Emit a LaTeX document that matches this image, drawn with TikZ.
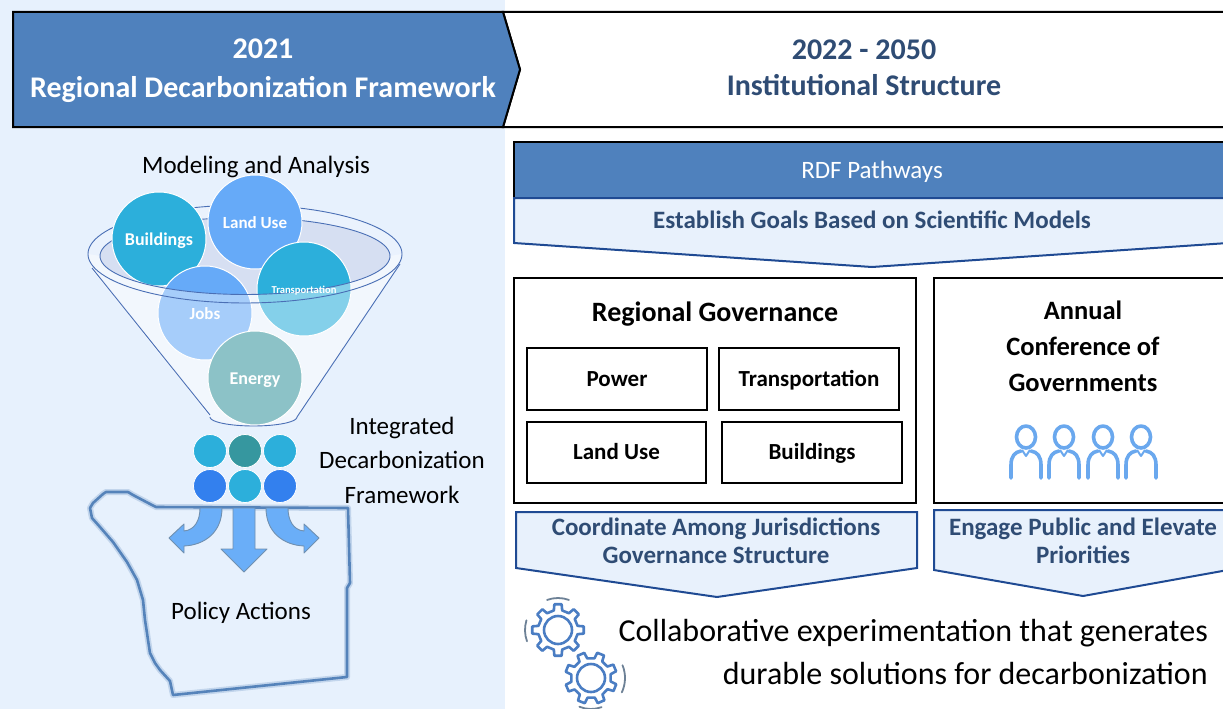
\documentclass[tikz,border=0pt]{standalone}
\usepackage{fontspec}
\setmainfont{Carlito}
\usetikzlibrary{calc}
\definecolor{leftbg}{HTML}{E7F1FD}
\definecolor{hdrblue}{HTML}{4F81BD}
\definecolor{navytext}{HTML}{2F4C74}
\definecolor{chevline}{HTML}{1F4A93}
\definecolor{palefill}{HTML}{E8F1FC}
\definecolor{funnelline}{HTML}{4A6FB5}
\definecolor{funnelback}{HTML}{EAF2FD}
\definecolor{rimfill}{HTML}{D6DFF2}
\definecolor{cyanC}{HTML}{2CAFDB}
\definecolor{lblueC}{HTML}{66AAF8}
\definecolor{tealC}{HTML}{3A979F}
\definecolor{dotteal}{HTML}{36979F}
\definecolor{dotblue}{HTML}{3380EE}
\definecolor{mapline}{HTML}{5583BA}
\definecolor{arrowfill}{HTML}{6AAEF8}
\definecolor{arrowedge}{HTML}{7090B0}
\definecolor{personblue}{HTML}{6AA8EE}
\definecolor{gearblue}{HTML}{4A7DC3}
\definecolor{arcgray}{HTML}{6D8196}
\newcommand\fsz[1]{\fontsize{#1}{#1}\selectfont}
\begin{document}
\begin{tikzpicture}[x=1pt,y=-1pt,
  lbl/.style={inner sep=0pt, anchor=mid},
  frame/.style={draw=black, line width=2pt},
  innerbox/.style={draw=black, line width=2.2pt, fill=white},
  chev/.style={draw=chevline, line width=2pt, fill=palefill},
  bigball/.style={draw=white, line width=1pt},
  dot/.style={draw=white, line width=0.8pt},
  balltxt/.style={lbl, text=white, font=\fsz{18}\bfseries},
  hdrtxt/.style={lbl, font=\fsz{30}\bfseries},
  navybold/.style={lbl, text=navytext, font=\fsz{25}\bfseries},
  boxtxt/.style={lbl, font=\fsz{23}\bfseries},
  conftxt/.style={lbl, font=\fsz{26.5}\bfseries},
  sidetxt/.style={lbl, font=\fsz{25}},
  bottomtxt/.style={inner sep=0pt, anchor=mid east, font=\fsz{32}},
  fline/.style={draw=funnelline, line width=0.9pt},
  maparrow/.style={fill=arrowfill, draw=arrowedge, line width=0.9pt, line join=round},
  person/.style={draw=personblue, line width=3.6pt, line cap=round, line join=round},
  gearline/.style={draw=gearblue, line width=2.6pt, line join=round},
  motion/.style={draw=arcgray, line width=1.8pt, line cap=round}]
\useasboundingbox (0,0) rectangle (1223,709);

% page backgrounds
\fill[white] (0,0) rectangle (1223,709);
\fill[leftbg] (0,0) rectangle (505,709);

% ---------- header chevrons ----------
\draw[frame, fill=white] (503,12) -- (1228,12) -- (1228,127) -- (503,127) -- (520,69.5) -- cycle;
\draw[frame, fill=hdrblue] (13,12) -- (503,12) -- (520,69.5) -- (503,127) -- (13,127) -- cycle;
\node[hdrtxt, text=white] (yr1) at (263,56) {2021};
\node[hdrtxt, text=white] (rdf) at (263,95.5) {Regional Decarbonization Framework};
\node[hdrtxt, text=navytext] (yr2) at (864,57) {2022 - 2050};
\node[hdrtxt, text=navytext] (inst) at (864,93) {Institutional Structure};

% ---------- RDF pathways band ----------
\draw[draw=black, line width=1.6pt, fill=hdrblue] (514,142) rectangle (1228,198);
\node[lbl, text=white, font=\fsz{25}] (path) at (872,176) {RDF Pathways};
\draw[chev] (514,198) -- (1228,198) -- (1228,243) -- (872,267) -- (514,243) -- cycle;
\node[navybold] (goals) at (872,226) {Establish Goals Based on Scientific Models};

% ---------- regional governance ----------
\draw[frame, fill=white] (514,278) rectangle (916,503);
\node[lbl, font=\fsz{28}\bfseries] (gov) at (715,319) {Regional Governance};
\draw[innerbox] (527,348) rectangle (707,410);
\draw[innerbox] (719,348) rectangle (899,410);
\draw[innerbox] (527,422) rectangle (706,483);
\draw[innerbox] (722,422) rectangle (902,483);
\node[boxtxt] (power) at (617,384.5) {Power};
\node[boxtxt] (trans) at (809,384.5) {Transportation};
\node[boxtxt] (land) at (616.5,457.5) {Land Use};
\node[boxtxt] (bldg) at (812,457.5) {Buildings};

\draw[chev] (516,512) -- (917,512) -- (917,568) -- (717,597) -- (516,568) -- cycle;
\node[navybold] (coord) at (716,533) {Coordinate Among Jurisdictions};
\node[navybold] (struct) at (716,561) {Governance Structure};

% ---------- annual conference ----------
\draw[frame, fill=white] (934,278) rectangle (1228,503);
\node[conftxt] (ann1) at (1083,317.5) {Annual};
\node[conftxt] (ann2) at (1083,353.5) {Conference of};
\node[conftxt] (ann3) at (1083,389.5) {Governments};
\foreach \cx in {1026,1064,1103,1141}{
  \draw[person] (\cx,437) ellipse[x radius=9.5, y radius=11];
  \draw[person] (\cx-15,478) -- (\cx-15,465) .. controls (\cx-15,456) and (\cx-11,452) .. (\cx-5,451);
  \draw[person] (\cx+15,478) -- (\cx+15,465) .. controls (\cx+15,456) and (\cx+11,452) .. (\cx+5,451);
  \draw[draw=personblue, line width=2pt, line join=round] (\cx-4,450) -- (\cx,456) -- (\cx+4,450);
}
\draw[chev] (934,510) -- (1228,510) -- (1228,570) -- (1083,596) -- (934,570) -- cycle;
\node[navybold] (eng1) at (1083,533) {Engage Public and Elevate};
\node[navybold] (eng2) at (1083,561) {Priorities};

% ---------- gears ----------
\begin{scope}[shift={(558,630)}]
  \draw[gearline] (-12:20) \foreach \a in {0,45,...,315}{ -- (\a-12:20) -- (\a-8:26) -- (\a+8:26) -- (\a+12:20) } -- cycle;
  \draw[gearline] (0,0) circle[radius=14];
  \draw[motion] (250:32) arc[start angle=250, end angle=290, radius=32];
  \draw[motion] (160:33) arc[start angle=160, end angle=197, radius=33];
\end{scope}
\begin{scope}[shift={(591,678)}]
  \draw[gearline] (10:20) \foreach \a in {22,67,...,337}{ -- (\a-12:20) -- (\a-8:26) -- (\a+8:26) -- (\a+12:20) } -- cycle;
  \draw[gearline] (0,0) circle[radius=14];
  \draw[motion] (-22:34) arc[start angle=-22, end angle=25, radius=34];
  \draw[motion] (70:31) arc[start angle=70, end angle=112, radius=31];
\end{scope}
\node[bottomtxt] (collab1) at (1208,639) {Collaborative experimentation that generates};
\node[bottomtxt] (collab2) at (1208,682) {durable solutions for decarbonization};

% ---------- left: modeling funnel ----------
\node[sidetxt] (model) at (256,171) {Modeling and Analysis};

% funnel back
\fill[funnelback] (245,254) ellipse[x radius=157, y radius=49];
\fill[funnelback] (90,262) -- (210,417) -- (297,417) -- (401,262) -- cycle;
\draw[fline] plot[domain=180:360, samples=60] ({245+157*cos(\x)},{254+49*sin(\x)});
\fill[rimfill] (245,256) ellipse[x radius=145, y radius=38.5];
\draw[fline] plot[domain=180:360, samples=60] ({245+145*cos(\x)},{256+38.5*sin(\x)});

% model spheres
\fill[cyanC] (159,239) circle[radius=47];   \draw[bigball] (159,239) circle[radius=47];
\fill[lblueC] (255,222) circle[radius=47];  \draw[bigball] (255,222) circle[radius=47];
\fill[cyanC] (304,289) circle[radius=47];   \draw[bigball] (304,289) circle[radius=47];
\fill[lblueC] (205,313) circle[radius=47];  \draw[bigball] (205,313) circle[radius=47];
\fill[tealC] (255,378) circle[radius=47];   \draw[bigball] (255,378) circle[radius=47];

% translucent front of the funnel
\fill[white, fill opacity=0.42]
  (88,254) -- plot[domain=180:0, samples=60] ({245+145*cos(\x)},{256+38.5*sin(\x)})
  -- (402,254) -- (400,264) -- (297,417)
  -- plot[domain=0:180, samples=30] ({253.5+43.5*cos(\x)},{417+9*sin(\x)})
  -- (92,270) -- cycle;
\draw[fline] plot[domain=180:0, samples=60] ({245+157*cos(\x)},{254+49*sin(\x)});
\draw[fline] plot[domain=180:0, samples=60] ({245+145*cos(\x)},{256+38.5*sin(\x)});
\draw[fline] (92,268) -- (210,415) plot[domain=180:0, samples=30] ({253.5+43.5*cos(\x)},{417+9*sin(\x)}) -- (400,264);

\node[balltxt] (b1) at (159,243) {Buildings};
\node[balltxt, font=\fsz{17}\bfseries] (b2) at (255,226) {Land Use};
\node[balltxt, font=\fsz{10.6}\bfseries] (b3) at (304,291.5) {Transportation};
\node[balltxt, font=\fsz{17}\bfseries] (b4) at (205,317) {Jobs};
\node[balltxt] (b5) at (255,382) {Energy};

% ---------- map of the region ----------
\draw[mapline, line width=6pt, opacity=0.25, line join=round]
  (90,508) -- (93,503) -- (103,494) -- (106,492) -- (128,492) -- (133,495) -- (152,505) -- (156,507)
  -- (348,508) -- (350,583) -- (347,588) -- (347,677) -- (173,695) -- (170,681) -- (160,670)
  -- (155,663) -- (150,653) -- (148,640) -- (147,633) -- (145,620) -- (143,600) -- (137,580)
  -- (127,562) -- (113,542) -- (100,527) -- (92,518) -- cycle;
\draw[mapline, line width=2.6pt, line join=round]
  (90,508) -- (93,503) -- (103,494) -- (106,492) -- (128,492) -- (133,495) -- (152,505) -- (156,507)
  -- (348,508) -- (350,583) -- (347,588) -- (347,677) -- (173,695) -- (170,681) -- (160,670)
  -- (155,663) -- (150,653) -- (148,640) -- (147,633) -- (145,620) -- (143,600) -- (137,580)
  -- (127,562) -- (113,542) -- (100,527) -- (92,518) -- cycle;

% policy arrows
\draw[maparrow] (233,508) -- (255,508) -- (255,549) -- (267,549) -- (244,572) -- (221,549) -- (233,549) -- cycle;
\draw[maparrow] (200,508) -- (222,508) .. controls (222,532) and (205,545) .. (184,546) -- (184,553) -- (169,538) -- (184,524) -- (184,531) .. controls (195,530) and (200,520) .. (200,508) -- cycle;
\draw[maparrow] (288,508) -- (266,508) .. controls (266,532) and (283,545) .. (304,546) -- (304,553) -- (319,538) -- (304,524) -- (304,531) .. controls (293,530) and (288,520) .. (288,508) -- cycle;

% integrated framework dots
\fill[cyanC] (210,451) circle[radius=16.5];   \draw[dot] (210,451) circle[radius=16.5];
\fill[dotteal] (245,451) circle[radius=16.5]; \draw[dot] (245,451) circle[radius=16.5];
\fill[cyanC] (280,451) circle[radius=16.5];   \draw[dot] (280,451) circle[radius=16.5];
\fill[dotblue] (210,486) circle[radius=16.5]; \draw[dot] (210,486) circle[radius=16.5];
\fill[cyanC] (245,486) circle[radius=16.5];   \draw[dot] (245,486) circle[radius=16.5];
\fill[dotblue] (280,486) circle[radius=16.5]; \draw[dot] (280,486) circle[radius=16.5];

\node[sidetxt] (int1) at (402,432) {Integrated};
\node[sidetxt] (int2) at (402,466) {Decarbonization};
\node[sidetxt] (int3) at (402,501) {Framework};
\node[sidetxt] (policy) at (241,617) {Policy Actions};
\end{tikzpicture}
\end{document}
